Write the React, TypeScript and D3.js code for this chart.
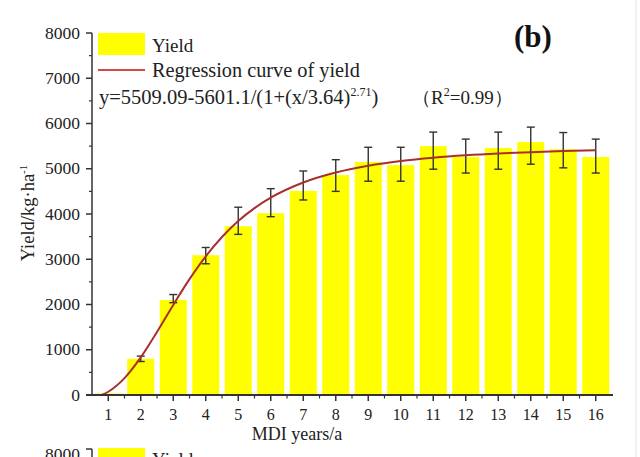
import React from "react";
import * as d3 from "d3";

const categories = ["1","2","3","4","5","6","7","8","9","10","11","12","13","14","15","16"];
const yieldValues = [50, 800, 2100, 3090, 3730, 4020, 4510, 4860, 5150, 5080, 5500, 5260, 5460, 5590, 5430, 5260];
const errCenters = [50, 800, 2130, 3080, 3850, 4250, 4630, 4850, 5100, 5100, 5400, 5280, 5400, 5510, 5410, 5280];
const errValues = [0, 60, 90, 180, 300, 310, 320, 350, 375, 375, 410, 375, 410, 410, 390, 375];
const curveX = [0.8, 1, 1.5, 2, 2.5, 3, 3.5, 4, 4.5, 5, 5.5, 6, 7, 8, 9, 10, 11, 12, 13, 14, 15, 16];
const curveY = [0, 72, 373, 831, 1394, 1991, 2560, 3064, 3492, 3844, 4130, 4360, 4695, 4916, 5065, 5169, 5243, 5297, 5337, 5367, 5391, 5410];
const yTicks = [0, 1000, 2000, 3000, 4000, 5000, 6000, 7000, 8000];

const W = 640, H = 457;
const left = 92, right = 612, top = 33, bottom = 395;
const serif = "'Liberation Serif', 'DejaVu Serif', serif";

export default function App() {
  const x = d3.scaleLinear().domain([0.5, 16.5]).range([left, right]);
  const band = d3.scaleBand().domain(categories).range([left, right]).paddingInner(0.17).paddingOuter(0.085);
  const y = d3.scaleLinear().domain([0, 8000]).range([bottom, top]);
  const line = d3.line<number>()
    .x((_, i) => x(curveX[i]))
    .y((d) => y(d))
    .curve(d3.curveMonotoneX);
  const minorY = d3.range(500, 8000, 1000);
  const minorX = d3.range(1.5, 16.5, 1);
  const capW = 4;
  const textColor = "#222";

  return (
    <svg width={W} height={H} style={{ position: "absolute", left: 0, top: 0, background: "#fff" }}
      fontFamily={serif}>
      <rect x={0} y={0} width={W} height={H} fill="#fff" />
      {/* bars */}
      {yieldValues.map((v, i) => (
        <rect key={"b" + i} x={band(categories[i])} y={y(v)} width={band.bandwidth()}
          height={bottom - y(v)} fill={i === 0 ? "#fbf59a" : "#ffff00"} />
      ))}
      {/* error bars */}
      {errValues.map((e, i) => e > 0 ? (
        <g key={"e" + i} stroke="#333" strokeWidth={1.4}>
          <line x1={x(i + 1)} x2={x(i + 1)} y1={y(errCenters[i] + e)} y2={y(errCenters[i] - e)} />
          <line x1={x(i + 1) - capW} x2={x(i + 1) + capW} y1={y(errCenters[i] + e)} y2={y(errCenters[i] + e)} />
          <line x1={x(i + 1) - capW} x2={x(i + 1) + capW} y1={y(errCenters[i] - e)} y2={y(errCenters[i] - e)} />
        </g>
      ) : null)}
      {/* curve */}
      <path d={line(curveY) || ""} fill="none" stroke="#a8302c" strokeWidth={2} />
      {/* y axis */}
      <line x1={left} x2={left} y1={top} y2={bottom} stroke="#333" strokeWidth={1.5} />
      {yTicks.map((t) => (
        <g key={"yt" + t}>
          <line x1={left - 6} x2={left} y1={y(t)} y2={y(t)} stroke="#333" strokeWidth={1.5} />
          <text x={80} y={y(t) + 5.5} textAnchor="end" fontSize={17.5} fill={textColor}>{t}</text>
        </g>
      ))}
      {minorY.map((t) => (
        <line key={"ym" + t} x1={left - 3} x2={left} y1={y(t)} y2={y(t)} stroke="#333" strokeWidth={1.2} />
      ))}
      {/* x axis */}
      <line x1={left - 6} x2={right + 1} y1={bottom} y2={bottom} stroke="#333" strokeWidth={2} />
      {categories.map((c, i) => (
        <g key={"xt" + c}>
          <line x1={x(i + 1)} x2={x(i + 1)} y1={bottom} y2={bottom + 6} stroke="#333" strokeWidth={1.5} />
          <text x={x(i + 1)} y={420} textAnchor="middle" fontSize={16} fill={textColor}>{c}</text>
        </g>
      ))}
      {minorX.map((t) => (
        <line key={"xm" + t} x1={x(t)} x2={x(t)} y1={bottom} y2={bottom + 3.5} stroke="#333" strokeWidth={1.2} />
      ))}
      {/* axis titles */}
      <text x={297} y={440} textAnchor="middle" fontSize={18} fill={textColor}>MDI years/a</text>
      <text transform="translate(34,213) rotate(-90)" textAnchor="middle" fontSize={18.5} fill={textColor}>
        Yield/kg·ha<tspan dy={-7} fontSize={11}>-1</tspan>
      </text>
      {/* legend */}
      <rect x={98} y={33} width={47} height={22} fill="#ffff00" />
      <text x={152} y={52} fontSize={19} fill={textColor}>Yield</text>
      <line x1={98} x2={145} y1={70} y2={70} stroke="#d24a45" strokeWidth={2} />
      <text x={152} y={77} fontSize={20.3} fill={textColor}>Regression curve of yield</text>
      <text x={99} y={104} fontSize={20.5} fill={textColor}>
        y=5509.09-5601.1/(1+(x/3.64)<tspan dy={-8} fontSize={12}>2.71</tspan><tspan dy={8}>)</tspan>
      </text>
      <text x={412} y={104} fontSize={19} fill={textColor}>
        （R<tspan dy={-8} fontSize={12}>2</tspan><tspan dy={8}>=0.99）</tspan>
      </text>
      <text x={533} y={47} textAnchor="middle" fontSize={31} fontWeight="bold" fill="#111">(b)</text>
      {/* next panel, partially visible */}
      <rect x={98} y={448} width={47} height={12} fill="#ffff00" />
      <text x={80} y={460} textAnchor="end" fontSize={17.5} fill={textColor}>8000</text>
      <line x1={left - 6} x2={left} y1={449} y2={449} stroke="#333" strokeWidth={1.5} />
      <line x1={left} x2={left} y1={449} y2={H} stroke="#333" strokeWidth={1.5} />
      <text x={152} y={466} fontSize={19} fill={textColor}>Yield</text>
      <line x1={636} x2={636} y1={0} y2={H} stroke="#e4e4e4" strokeWidth={1} />
    </svg>
  );
}
